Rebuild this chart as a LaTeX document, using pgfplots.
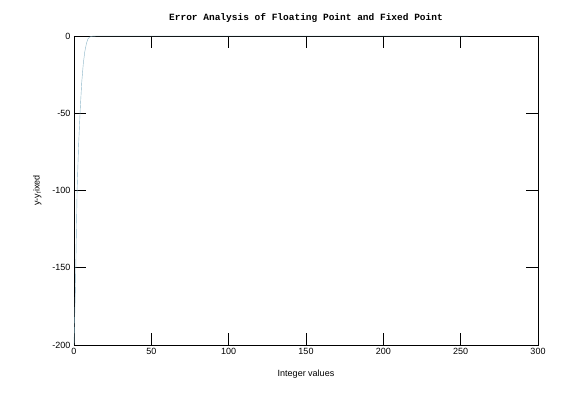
\documentclass[border=0pt]{standalone}
\usepackage{pgfplots}
\pgfplotsset{compat=1.18}
\usepackage{fontspec}
\setmainfont{Liberation Sans}
\newfontfamily\monob{Liberation Mono}
\begin{document}
\begin{tikzpicture}
\path[use as bounding box] (-74pt,-58pt) rectangle (501pt,345pt);
\begin{axis}[at={(0,0)},anchor=south west,scale only axis,
width=464pt,height=309pt,
xmin=0,xmax=300,ymin=-200,ymax=0,
xtick={0,50,...,300},ytick={-200,-150,...,0},
tick style={black,thick},major tick length=12pt,
ticklabel style={font=\fontsize{9}{10}\selectfont},
/pgf/number format/assume math mode=true,
title={\monob\bfseries\fontsize{9.5}{11}\selectfont Error Analysis of Floating Point and Fixed Point},
title style={yshift=4pt},
xlabel={\fontsize{9}{10}\selectfont Integer values},
ylabel={\fontsize{9}{10}\selectfont y-y$_{\mathrm{f}}$ixed},
xlabel style={yshift=-8pt},
ylabel style={yshift=4pt},
axis line style={black}]
\addplot[color=cyan!40!gray!80,thin] coordinates {(0,-200)(0.5,-180)(1,-160)(1.5,-130)(2,-100)(2.5,-85)(3,-70)(4,-48)(5,-30)(6,-18)(7,-10)(8,-5)(9,-2)(10,-0.7)(12,-0.1)(15,0)(255,0)};
\end{axis}
\end{tikzpicture}
\end{document}
